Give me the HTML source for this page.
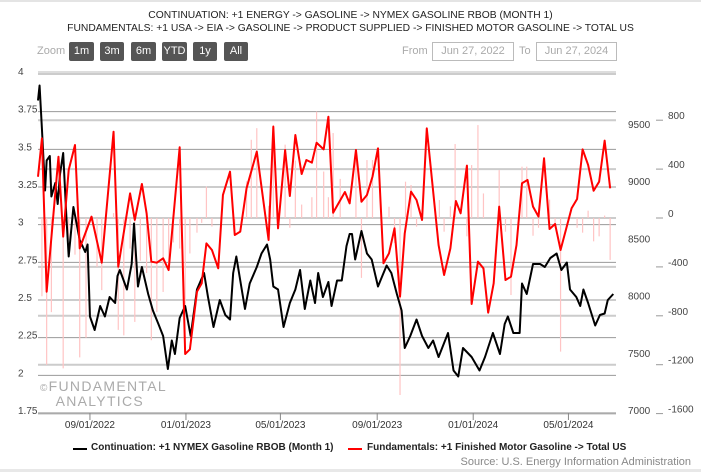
<!DOCTYPE html>
<html><head><meta charset="utf-8">
<style>
body{margin:0;background:#fff;font-family:"Liberation Sans",sans-serif;}
#wrap{position:relative;width:701px;height:472px;overflow:hidden;background:#fff;}
.t{position:absolute;white-space:nowrap;}
.btn{position:absolute;top:42px;height:19px;background:#555;color:#fff;font-size:11px;line-height:19px;text-align:center;border-radius:2px;}
.box{position:absolute;top:42px;height:17px;border:1px solid #bbb;color:#aaa;font-size:11px;line-height:17px;text-align:center;}
</style></head><body>
<div id="wrap">
<div style="position:absolute;left:0;top:0;width:701px;height:2px;background:#e4e4e4"></div>
<div class="t" style="left:0;width:701px;top:10px;text-align:center;font-size:10.3px;color:#222">CONTINUATION: +1 ENERGY -&gt; GASOLINE -&gt; NYMEX GASOLINE RBOB (MONTH 1)</div>
<div class="t" style="left:0;width:701px;top:23px;text-align:center;font-size:10.3px;color:#222">FUNDAMENTALS: +1 USA -&gt; EIA -&gt; GASOLINE -&gt; PRODUCT SUPPLIED -&gt; FINISHED MOTOR GASOLINE -&gt; TOTAL US</div>
<div class="t" style="left:37px;top:45px;font-size:11px;color:#aaa">Zoom</div>
<div class="btn" style="left:69px;width:25px">1m</div>
<div class="btn" style="left:100px;width:24px">3m</div>
<div class="btn" style="left:131px;width:25px">6m</div>
<div class="btn" style="left:162px;width:25px">YTD</div>
<div class="btn" style="left:193px;width:24px">1y</div>
<div class="btn" style="left:224px;width:24px">All</div>
<div class="t" style="left:402px;top:45px;font-size:11px;color:#aaa">From</div>
<div class="box" style="left:432px;width:80px">Jun 27, 2022</div>
<div class="t" style="left:519px;top:45px;font-size:11px;color:#aaa">To</div>
<div class="box" style="left:536px;width:79px">Jun 27, 2024</div>
<div class="t" style="left:40px;top:380px;font-size:14px;color:#aaa;letter-spacing:1.3px;line-height:12px"><span style="font-size:10px">©</span>FUNDAMENTAL<br>&nbsp;&nbsp;&nbsp;ANALYTICS</div>
<svg id="svg" width="701" height="472" style="position:absolute;left:0;top:0"></svg>
<div style="position:absolute;left:73px;top:448px;width:14px;height:2px;background:#000"></div>
<div class="t" style="left:91px;top:442px;font-size:10px;font-weight:bold;color:#222">Continuation: +1 NYMEX Gasoline RBOB (Month 1)</div>
<div style="position:absolute;left:348px;top:448px;width:14px;height:2px;background:#f00"></div>
<div class="t" style="left:367px;top:442px;font-size:10px;font-weight:bold;color:#222">Fundamentals: +1 Finished Motor Gasoline -&gt; Total US</div>
<div class="t" style="right:10px;top:456px;font-size:11px;color:#888">Source: U.S. Energy Information Administration</div>
<div style="position:absolute;left:0;top:469px;width:701px;height:3px;background:#e8e8e8"></div>
</div>
<script>
const blackDays=[0,2,5,9,11,15,17,22,25,28,32,36,39,45,53,60,63,66,72,79,85,91,98,101,104,113,119,122,127,132,140,146,153,159,165,170,174,180,187,194,202,211,216,223,231,238,244,248,252,257,263,269,278,284,291,295,299,305,312,320,327,333,339,346,352,356,362,369,373,380,386,392,396,399,403,411,418,424,432,443,449,456,462,466,473,481,488,496,502,509,521,528,534,540,551,561,568,578,587,593,597,604,612,615,621,629,638,644,651,659,665,672,676,684,689,693,699,708,714,720,724,731];
const blackVals=[3.81,3.91,3.62,3.21,3.41,3.44,3.17,3.26,3.12,3.32,3.46,3.04,2.77,3.10,2.88,2.80,2.85,2.37,2.28,2.44,2.37,2.50,2.46,2.64,2.68,2.55,2.72,2.99,2.57,2.70,2.52,2.41,2.32,2.24,2.02,2.21,2.12,2.36,2.44,2.24,2.55,2.66,2.50,2.30,2.48,2.38,2.35,2.66,2.77,2.61,2.42,2.59,2.70,2.79,2.85,2.75,2.57,2.55,2.30,2.46,2.55,2.68,2.42,2.61,2.46,2.66,2.50,2.60,2.44,2.61,2.61,2.84,2.92,2.92,2.75,2.94,2.79,2.75,2.57,2.71,2.66,2.52,2.41,2.16,2.24,2.35,2.24,2.16,2.21,2.10,2.26,2.01,1.97,2.16,2.10,2.01,2.10,2.26,2.12,2.32,2.37,2.26,2.26,2.59,2.52,2.72,2.72,2.70,2.76,2.79,2.68,2.73,2.55,2.50,2.44,2.55,2.46,2.31,2.38,2.39,2.48,2.52];
const redDays=[0,5,11,26,32,39,47,53,68,81,96,102,117,123,132,138,144,151,159,166,180,187,193,202,208,214,221,229,235,244,250,257,265,278,293,299,305,314,320,327,335,341,348,354,363,369,375,390,396,404,411,418,425,432,439,446,453,460,466,474,481,488,494,509,516,524,531,537,545,551,559,566,572,579,586,594,601,608,615,622,629,636,643,650,657,664,678,685,692,699,706,713,720,727];
const redVals=[9031,9366,8028,9206,8508,9090,9308,8406,8683,8281,9424,8246,8886,8654,8968,8712,8290,8281,8319,8217,9288,7484,7525,8028,8101,8450,8392,8232,8872,9075,8523,8552,8930,9250,8479,9468,8581,9264,8863,9395,9055,9177,9154,9328,9270,9555,8717,8898,8799,9264,8813,8872,9031,9279,8276,8363,8581,7985,8537,8901,8828,8654,9453,8435,8174,8406,8819,8712,9128,7921,8290,8232,7845,8101,8770,8130,8159,8435,8974,9003,8770,8683,9192,8575,8619,8392,8756,8837,9270,9134,8909,8988,9346,8930];
const barDays=[5,11,17,32,39,47,53,61,75,81,96,102,109,117,123,130,138,144,151,159,166,172,180,187,193,202,208,214,221,250,265,271,278,293,299,305,314,320,327,335,348,354,363,369,375,384,404,411,418,425,446,453,460,467,474,481,510,516,524,530,545,551,559,566,586,594,601,615,621,629,636,650,657,664,685,692,699,706,713,720,727];
const barVals=[-640,-1200,-770,-1230,-180,-300,-1140,-980,-400,-590,40,-915,-960,-250,-850,-350,-450,-1000,-770,-605,-380,-200,-250,-770,-290,-120,-40,256,-70,-130,300,640,735,100,760,-90,600,-80,470,110,170,870,380,170,695,320,474,-490,474,474,92,-205,-1448,297,270,-71,147,-112,96,605,-150,433,760,201,392,-112,-630,420,420,-145,-80,150,-80,-1093,-80,-120,60,-191,-150,20,-343];
const leftTicks=[4,3.75,3.5,3.25,3,2.75,2.5,2.25,2,1.75];
const midTicks=[9500,9000,8500,8000,7500,7000];
const rightTicks=[800,400,0,-400,-800,-1200,-1600];
const xTickLabels=["09/01/2022","01/01/2023","05/01/2023","09/01/2023","01/01/2024","05/01/2024"];
const xTickDays=[66,188,308,431,553,674];

const svg=document.getElementById('svg');
const NS='http://www.w3.org/2000/svg';
const X0=38,X1=616;
const xS=d=>X0+d*0.787;
const yL=v=>72+(4-v)*150;
const yLg=v=>74+(4-v)*150.67;
const yM=v=>123+(9500-v)*0.1146;
const yMl=v=>127+(9500-v)*0.1144;
const yR=v=>218-v*0.12225;
function el(tag,attrs){const e=document.createElementNS(NS,tag);for(const k in attrs)e.setAttribute(k,attrs[k]);svg.appendChild(e);return e;}
function txt(s,x,y,anchor,size,fill){const t=el('text',{x:x,y:y,'text-anchor':anchor,'font-size':size,fill:fill,'font-family':'Liberation Sans, sans-serif'});t.textContent=s;return t;}

rightTicks.forEach(v=>{
  const l=el('line',{x1:X0,x2:X1,y1:yR(v),y2:yR(v),stroke:'#ccc','stroke-width':2});
  
  
  el('line',{x1:656,x2:663,y1:yR(v),y2:yR(v),stroke:'#999','stroke-width':1});
  const t=txt(String(v),668,yR(v)-1,'start',10,'#444');
  
  
});
leftTicks.forEach(v=>{
  if(v>1.75){
  const l=el('line',{x1:X0,x2:X1,y1:yLg(v),y2:yLg(v),stroke:'#999','stroke-width':1});
  
  }
  const t=txt(String(v),18,yLg(v)+1,'start',10,'#444');
  
  
});
el('line',{x1:X0,x2:X1,y1:72,y2:72,stroke:'#bbb','stroke-width':1});
midTicks.forEach(v=>{
  const t=txt(String(v),628,yMl(v)+1,'start',10,'#444');
  
  
});
barVals.forEach((v,i)=>{
  const r=el('line',{x1:xS(barDays[i]),x2:xS(barDays[i]),y1:yR(0),y2:yR(v),stroke:'#ffc4c4','stroke-width':1.2});
  
  
});
const bp=el('polyline',{points:blackDays.map((d,i)=>xS(d)+','+yL(blackVals[i])).join(' '),fill:'none',stroke:'#000','stroke-width':2,'stroke-linejoin':'round'});


const rp=el('polyline',{points:redDays.map((d,i)=>xS(d)+','+yM(redVals[i])).join(' '),fill:'none',stroke:'#f00','stroke-width':2,'stroke-linejoin':'round'});


el('line',{x1:X0,x2:X1,y1:413,y2:413,stroke:'#888','stroke-width':1});
xTickLabels.forEach((s,i)=>{
  const x=xS(xTickDays[i]);
  el('line',{x1:x,x2:x,y1:413,y2:420,stroke:'#888','stroke-width':1});
  const t=txt(s,x,428,'middle',10,'#333');
  
  
});
</script>
</body></html>
